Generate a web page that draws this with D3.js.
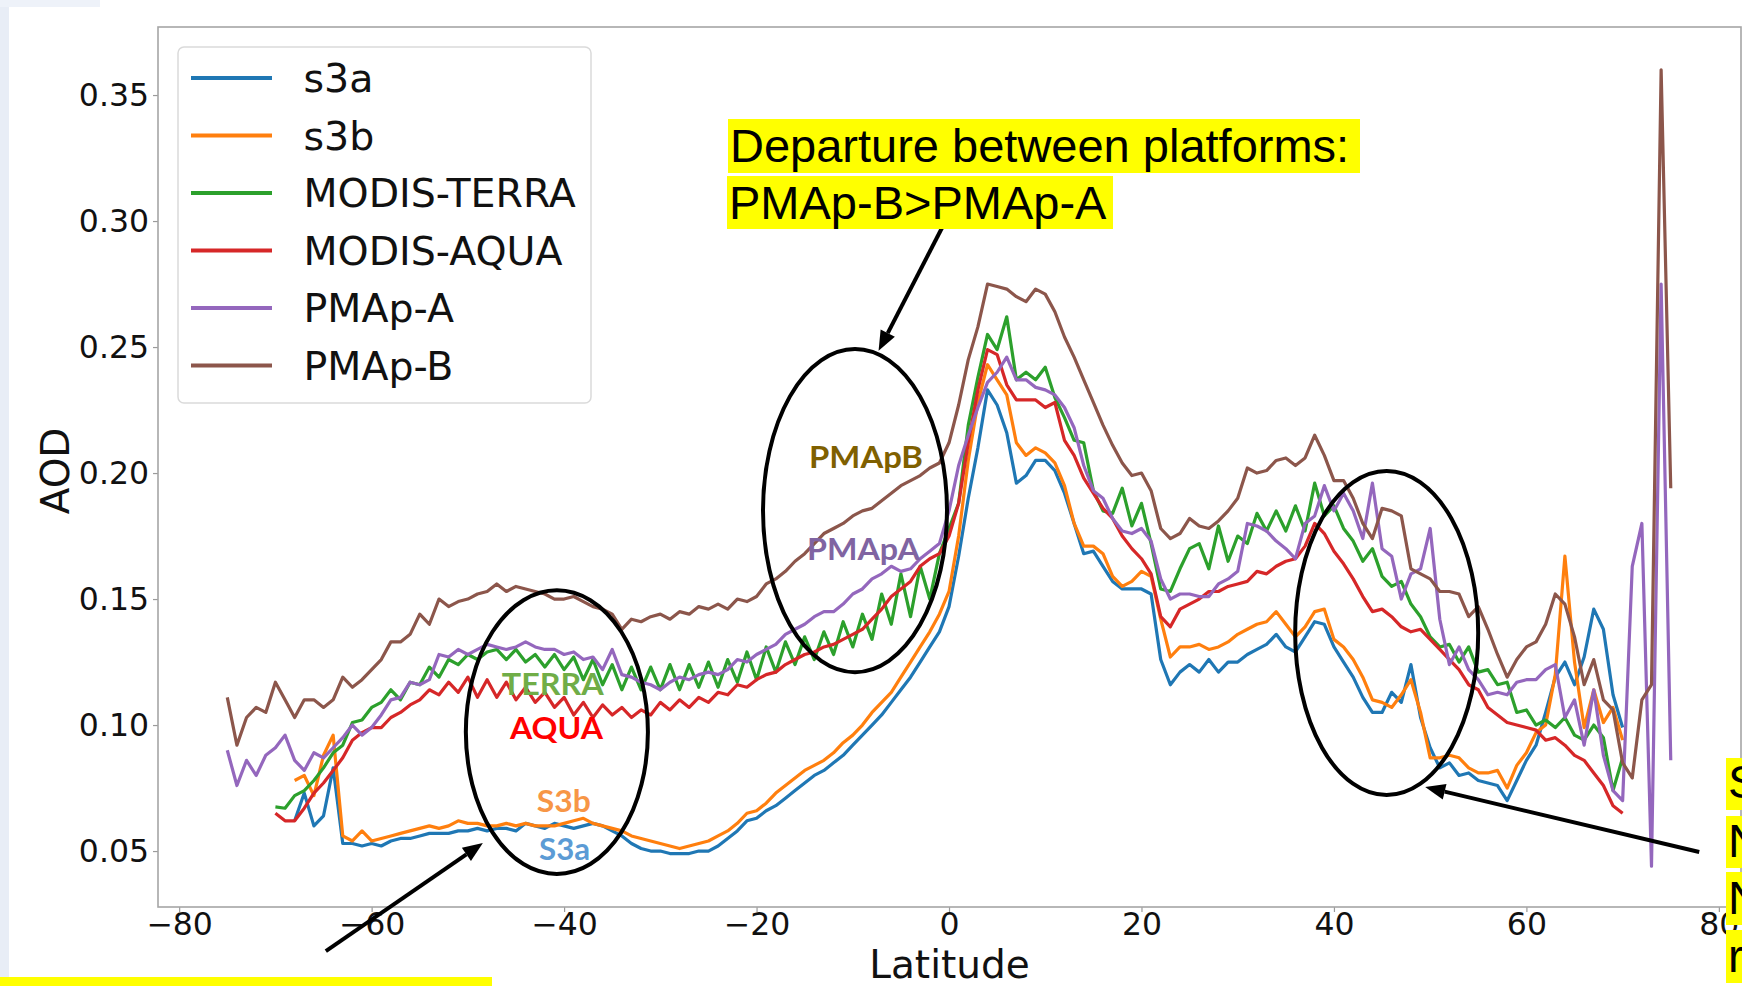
<!DOCTYPE html>
<html>
<head>
<meta charset="utf-8">
<script src="https://cdn.jsdelivr.net/npm/d3@7"></script>
<style>
  html, body { margin: 0; padding: 0; background: #fff; overflow: hidden; }
  svg { display: block; }
</style>
</head>
<body>
<div id="chart"></div>
<script>
// AOD zonal means, one value per degree of latitude starting at seriesStartLat
const seriesNames = ["s3a", "s3b", "MODIS-TERRA", "MODIS-AQUA", "PMAp-A", "PMAp-B"];
const seriesColors = ["#1f77b4", "#ff7f0e", "#2ca02c", "#d62728", "#9467bd", "#8c564b"];
const seriesStartLat = [-68, -68, -70, -70, -75, -75];

const s3a = [
  0.062,0.073,0.060,0.064,0.083,0.053,0.053,0.052,0.053,0.052,
  0.054,0.055,0.055,0.056,0.057,0.057,0.057,0.058,0.058,0.059,
  0.058,0.059,0.059,0.058,0.061,0.060,0.059,0.061,0.060,0.059,
  0.060,0.061,0.060,0.058,0.056,0.053,0.051,0.050,0.050,0.049,
  0.049,0.049,0.050,0.050,0.052,0.055,0.058,0.062,0.063,0.066,
  0.068,0.071,0.074,0.077,0.080,0.082,0.085,0.088,0.092,0.096,
  0.100,0.104,0.109,0.114,0.119,0.125,0.131,0.137,0.147,0.167,
  0.190,0.210,0.233,0.227,0.216,0.196,0.199,0.205,0.205,0.201,
  0.192,0.180,0.168,0.169,0.163,0.157,0.154,0.154,0.154,0.152,
  0.126,0.116,0.121,0.124,0.121,0.126,0.121,0.125,0.125,0.128,
  0.130,0.132,0.136,0.131,0.129,0.135,0.141,0.140,0.131,0.125,
  0.119,0.111,0.105,0.105,0.113,0.109,0.124,0.103,0.091,0.083,
  0.085,0.080,0.081,0.078,0.077,0.076,0.070,0.078,0.086,0.092,
  0.105,0.119,0.125,0.116,0.127,0.146,0.138,0.112,0.099
];
const s3b = [
  0.078,0.080,0.072,0.088,0.096,0.056,0.054,0.058,0.054,0.055,
  0.056,0.057,0.058,0.059,0.060,0.059,0.060,0.062,0.061,0.061,
  0.060,0.060,0.061,0.060,0.061,0.060,0.060,0.060,0.061,0.062,
  0.063,0.061,0.060,0.059,0.058,0.056,0.055,0.054,0.053,0.052,
  0.051,0.052,0.053,0.054,0.056,0.058,0.061,0.065,0.066,0.069,
  0.073,0.076,0.079,0.082,0.084,0.086,0.089,0.093,0.096,0.100,
  0.105,0.109,0.113,0.119,0.125,0.131,0.137,0.144,0.153,0.175,
  0.205,0.228,0.243,0.237,0.231,0.212,0.207,0.210,0.208,0.204,
  0.195,0.180,0.171,0.171,0.168,0.159,0.155,0.157,0.161,0.159,
  0.142,0.127,0.131,0.131,0.132,0.130,0.131,0.133,0.136,0.138,
  0.140,0.141,0.145,0.140,0.135,0.139,0.145,0.146,0.134,0.131,
  0.126,0.119,0.110,0.109,0.107,0.112,0.118,0.105,0.087,0.087,
  0.088,0.087,0.083,0.081,0.081,0.082,0.075,0.084,0.089,0.097,
  0.100,0.120,0.167,0.125,0.099,0.114,0.101,0.107,0.094
];
const modisTerra = [
  0.0675,0.067,0.072,0.074,0.078,0.083,0.089,0.092,0.101,0.102,
  0.107,0.109,0.114,0.110,0.117,0.116,0.123,0.119,0.126,0.124,
  0.128,0.126,0.129,0.130,0.126,0.130,0.125,0.128,0.123,0.128,
  0.122,0.127,0.118,0.126,0.116,0.124,0.114,0.123,0.114,0.123,
  0.114,0.124,0.114,0.124,0.115,0.125,0.115,0.126,0.117,0.129,
  0.118,0.131,0.121,0.133,0.124,0.135,0.126,0.137,0.128,0.141,
  0.131,0.144,0.134,0.152,0.140,0.160,0.143,0.163,0.150,0.168,
  0.178,0.188,0.219,0.238,0.255,0.249,0.262,0.237,0.240,0.237,
  0.242,0.230,0.222,0.213,0.212,0.193,0.185,0.184,0.194,0.179,
  0.188,0.172,0.154,0.153,0.162,0.170,0.172,0.162,0.179,0.165,
  0.175,0.172,0.184,0.177,0.185,0.177,0.187,0.177,0.196,0.183,
  0.187,0.178,0.173,0.165,0.170,0.159,0.155,0.157,0.148,0.143,
  0.135,0.131,0.132,0.125,0.131,0.121,0.122,0.116,0.117,0.105,
  0.106,0.100,0.102,0.099,0.103,0.096,0.094,0.100,0.095,0.074,
  0.087
];
const modisAqua = [
  0.065,0.062,0.062,0.067,0.073,0.077,0.082,0.087,0.094,0.097,
  0.099,0.099,0.103,0.105,0.108,0.110,0.114,0.112,0.117,0.113,
  0.119,0.111,0.118,0.111,0.117,0.110,0.115,0.109,0.113,0.107,
  0.111,0.104,0.109,0.103,0.108,0.104,0.107,0.103,0.106,0.104,
  0.109,0.106,0.110,0.107,0.111,0.109,0.113,0.112,0.116,0.115,
  0.118,0.120,0.121,0.124,0.126,0.128,0.129,0.131,0.132,0.134,
  0.136,0.138,0.142,0.146,0.151,0.154,0.157,0.163,0.166,0.168,
  0.175,0.188,0.212,0.233,0.249,0.247,0.235,0.229,0.229,0.229,
  0.226,0.228,0.213,0.207,0.198,0.192,0.186,0.182,0.175,0.170,
  0.166,0.160,0.143,0.139,0.146,0.148,0.150,0.153,0.153,0.155,
  0.156,0.157,0.161,0.160,0.163,0.165,0.166,0.171,0.180,0.176,
  0.169,0.164,0.158,0.151,0.145,0.146,0.143,0.139,0.137,0.138,
  0.134,0.130,0.126,0.122,0.116,0.114,0.107,0.104,0.101,0.100,
  0.099,0.098,0.094,0.095,0.092,0.088,0.086,0.081,0.076,0.068,
  0.065
];
const pmapA = [
  0.090,0.076,0.086,0.080,0.088,0.091,0.096,0.086,0.082,0.089,
  0.087,0.091,0.095,0.100,0.096,0.099,0.104,0.110,0.111,0.117,
  0.116,0.118,0.128,0.127,0.130,0.128,0.130,0.132,0.131,0.130,
  0.131,0.133,0.131,0.130,0.130,0.128,0.129,0.126,0.127,0.122,
  0.130,0.120,0.119,0.117,0.116,0.114,0.117,0.119,0.118,0.120,
  0.121,0.120,0.122,0.126,0.125,0.128,0.130,0.132,0.136,0.138,
  0.140,0.143,0.145,0.145,0.148,0.152,0.154,0.158,0.160,0.163,
  0.161,0.162,0.166,0.169,0.172,0.185,0.203,0.215,0.226,0.236,
  0.240,0.246,0.237,0.237,0.234,0.233,0.231,0.226,0.218,0.203,
  0.193,0.190,0.182,0.177,0.176,0.178,0.173,0.158,0.150,0.152,
  0.152,0.151,0.151,0.156,0.158,0.161,0.180,0.179,0.177,0.173,
  0.170,0.166,0.180,0.183,0.195,0.185,0.192,0.185,0.174,0.196,
  0.170,0.167,0.150,0.160,0.162,0.178,0.142,0.124,0.131,0.122,
  0.118,0.112,0.113,0.112,0.117,0.118,0.118,0.122,0.124,0.103,
  0.110,0.092,0.114,0.088,0.074,0.070,0.163,0.180,0.044,0.275,
  0.086
];
const pmapB = [
  0.111,0.092,0.103,0.107,0.105,0.117,0.110,0.103,0.110,0.110,
  0.107,0.110,0.119,0.115,0.118,0.122,0.126,0.133,0.133,0.136,
  0.144,0.140,0.150,0.147,0.149,0.150,0.152,0.153,0.156,0.153,
  0.155,0.154,0.153,0.152,0.150,0.150,0.151,0.149,0.147,0.146,
  0.144,0.138,0.142,0.141,0.143,0.144,0.142,0.145,0.144,0.147,
  0.146,0.148,0.146,0.150,0.149,0.151,0.156,0.158,0.161,0.165,
  0.168,0.172,0.176,0.178,0.180,0.183,0.185,0.186,0.189,0.192,
  0.195,0.197,0.199,0.202,0.204,0.212,0.227,0.245,0.258,0.275,
  0.274,0.273,0.270,0.268,0.273,0.271,0.264,0.254,0.246,0.237,
  0.228,0.219,0.211,0.204,0.199,0.200,0.193,0.178,0.174,0.176,
  0.182,0.179,0.178,0.181,0.185,0.190,0.202,0.200,0.201,0.205,
  0.206,0.203,0.206,0.215,0.207,0.197,0.197,0.190,0.180,0.174,
  0.186,0.185,0.183,0.162,0.160,0.158,0.153,0.153,0.152,0.143,
  0.147,0.138,0.128,0.119,0.126,0.131,0.133,0.140,0.152,0.148,
  0.135,0.116,0.126,0.110,0.106,0.085,0.079,0.110,0.116,0.360,
  0.194
];
const seriesValues = [s3a, s3b, modisTerra, modisAqua, pmapA, pmapB];

const xTicks = [-80, -60, -40, -20, 0, 20, 40, 60, 80];
const yTicks = [0.05, 0.10, 0.15, 0.20, 0.25, 0.30, 0.35];

// annotations placed in data space: [lat, aod, rLat, rAod]
const ellipses = [[-9.77, 0.1851, 9.56, 0.0641], [-40.75, 0.0972, 9.46, 0.0563], [45.48, 0.1365, 9.51, 0.0643]];
const arrows = [[-0.35, 0.3001, -7.32, 0.2485], [-64.76, 0.0103, -48.44, 0.0532], [77.96, 0.0496, 49.48, 0.0754]];
const tagLabels = ["PMApB", "PMApA", "TERRA", "AQUA", "S3b", "S3a"];
const tagColors = ["#7f6000", "#8064a2", "#70ad47", "#ff0000", "#f79646", "#5b9bd5"];
const tagPos = [[-14.55, 0.202], [-14.76, 0.1655], [-46.47, 0.1119], [-45.63, 0.0944], [-42.83, 0.0655], [-42.6, 0.0464]];
const tagWidths = [114, 113, 102, 93, 54, 51];

const width = 1742, height = 986;
const plot = { left: 158, right: 1741, top: 27, bottom: 907 };

const svg = d3.select("#chart").append("svg")
    .attr("width", width)
    .attr("height", height);

// slide background bits
svg.append("rect").attr("x", 0).attr("y", 0).attr("width", width).attr("height", height).attr("fill", "#fff");
svg.append("rect").attr("x", 0).attr("y", 0).attr("width", 9).attr("height", height).attr("fill", "#e8edf6");
svg.append("rect").attr("x", 0).attr("y", 0).attr("width", 100).attr("height", 7).attr("fill", "#eef2f9");

const x = d3.scaleLinear().domain([-82.2, 82.3]).range([plot.left, plot.right]);
const y = d3.scaleLinear().domain([0.0278, 0.377]).range([plot.bottom, plot.top]);

svg.append("defs").append("clipPath").attr("id", "clip")
    .append("rect")
    .attr("x", plot.left).attr("y", plot.top)
    .attr("width", plot.right - plot.left).attr("height", plot.bottom - plot.top);

// axes
const xAxis = svg.append("g")
    .attr("transform", `translate(0,${plot.bottom})`)
    .call(d3.axisBottom(x).tickValues(xTicks).tickSize(5).tickPadding(1).tickFormat(d3.format("d")));
const yAxis = svg.append("g")
    .attr("transform", `translate(${plot.left},0)`)
    .call(d3.axisLeft(y).tickValues(yTicks).tickSize(5).tickPadding(4).tickFormat(d3.format(".2f")));

[xAxis, yAxis].forEach(g => {
    g.select(".domain").remove();
    g.selectAll(".tick line").attr("stroke", "#9a9a9a").attr("stroke-width", 1.2);
    g.selectAll(".tick text")
        .style("font-family", "DejaVu Sans")
        .style("font-size", "31.5px")
        .attr("fill", "#111");
});

// frame
svg.append("rect")
    .attr("x", plot.left).attr("y", plot.top)
    .attr("width", plot.right - plot.left).attr("height", plot.bottom - plot.top)
    .attr("fill", "none")
    .attr("stroke", "#a6a6a6")
    .attr("stroke-width", 1.6);

// axis titles
svg.append("text")
    .attr("x", (plot.left + plot.right) / 2)
    .attr("y", 978)
    .attr("text-anchor", "middle")
    .style("font-family", "DejaVu Sans")
    .style("font-size", "39px")
    .attr("fill", "#111")
    .text("Latitude");

svg.append("text")
    .attr("transform", "translate(69,471) rotate(-90)")
    .attr("text-anchor", "middle")
    .style("font-family", "DejaVu Sans")
    .style("font-size", "39px")
    .attr("fill", "#111")
    .text("AOD");

// data lines
const lines = svg.append("g").attr("clip-path", "url(#clip)");
seriesValues.forEach((vals, k) => {
    const line = d3.line()
        .x((d, i) => x(seriesStartLat[k] + i))
        .y(d => y(d));
    lines.append("path")
        .datum(vals)
        .attr("d", line)
        .attr("fill", "none")
        .attr("stroke", seriesColors[k])
        .attr("stroke-width", 3.2)
        .attr("stroke-linejoin", "round")
        .attr("stroke-linecap", "butt");
});

// legend
const legend = svg.append("g");
legend.append("rect")
    .attr("x", 178).attr("y", 47)
    .attr("width", 413).attr("height", 356)
    .attr("rx", 6)
    .attr("fill", "#fff").attr("fill-opacity", 0.85)
    .attr("stroke", "#dadada").attr("stroke-width", 1.5);

seriesNames.forEach((name, i) => {
    const rowY = 78 + i * 57.5;
    legend.append("line")
        .attr("x1", 191).attr("x2", 272)
        .attr("y1", rowY).attr("y2", rowY)
        .attr("stroke", seriesColors[i])
        .attr("stroke-width", 4);
    legend.append("text")
        .attr("x", 303.5)
        .attr("y", rowY + 14)
        .style("font-family", "DejaVu Sans")
        .style("font-size", "39.5px")
        .attr("fill", "#111")
        .text(name);
});

// ellipses
ellipses.forEach(e => {
    svg.append("ellipse")
        .attr("cx", x(e[0])).attr("cy", y(e[1]))
        .attr("rx", x(e[0] + e[2]) - x(e[0]))
        .attr("ry", y(e[1] - e[3]) - y(e[1]))
        .attr("fill", "none")
        .attr("stroke", "#000")
        .attr("stroke-width", 4);
});

// arrows
arrows.forEach(a => {
    const x0 = x(a[0]), y0 = y(a[1]), x1 = x(a[2]), y1 = y(a[3]);
    const ang = Math.atan2(y1 - y0, x1 - x0);
    const headL = 20, headW = 8;
    const bx = x1 - headL * Math.cos(ang), by = y1 - headL * Math.sin(ang);
    svg.append("line")
        .attr("x1", x0).attr("y1", y0).attr("x2", bx).attr("y2", by)
        .attr("stroke", "#000").attr("stroke-width", 4);
    const pts = [
        [x1, y1],
        [bx + headW * Math.sin(ang), by - headW * Math.cos(ang)],
        [bx - headW * Math.sin(ang), by + headW * Math.cos(ang)]
    ];
    svg.append("polygon")
        .attr("points", pts.map(p => p.join(",")).join(" "))
        .attr("fill", "#000");
});

// coloured tags inside the ellipses
tagLabels.forEach((t, i) => {
    svg.append("text")
        .attr("x", x(tagPos[i][0]))
        .attr("y", y(tagPos[i][1]))
        .attr("textLength", tagWidths[i])
        .attr("lengthAdjust", "spacingAndGlyphs")
        .style("font-family", "Lato")
        .style("font-weight", "bold")
        .style("font-size", "31px")
        .attr("fill", tagColors[i])
        .text(t);
});

// yellow call-out boxes
function yellowLine(x0, y0, w, h, textX, baseY, txt) {
    svg.append("rect").attr("x", x0).attr("y", y0).attr("width", w).attr("height", h).attr("fill", "#ffff00");
    if (txt) {
        svg.append("text")
            .attr("x", textX).attr("y", baseY)
            .style("font-family", "Liberation Sans")
            .style("font-size", "47px")
            .attr("fill", "#000")
            .text(txt);
    }
}
yellowLine(728, 119, 632, 54, 730, 162, "Departure between platforms:");
yellowLine(727, 176, 386, 53, 729, 219, "PMAp-B>PMAp-A");
yellowLine(1726, 758, 16, 52, 1728, 798, "S");
yellowLine(1726, 816, 16, 52, 1728, 857, "N");
yellowLine(1726, 872, 16, 53, 1728, 914, "N");
yellowLine(1726, 930, 16, 53, 1728, 972, "r");
yellowLine(0, 977, 492, 9, 0, 0, null);
</script>
</body>
</html>
